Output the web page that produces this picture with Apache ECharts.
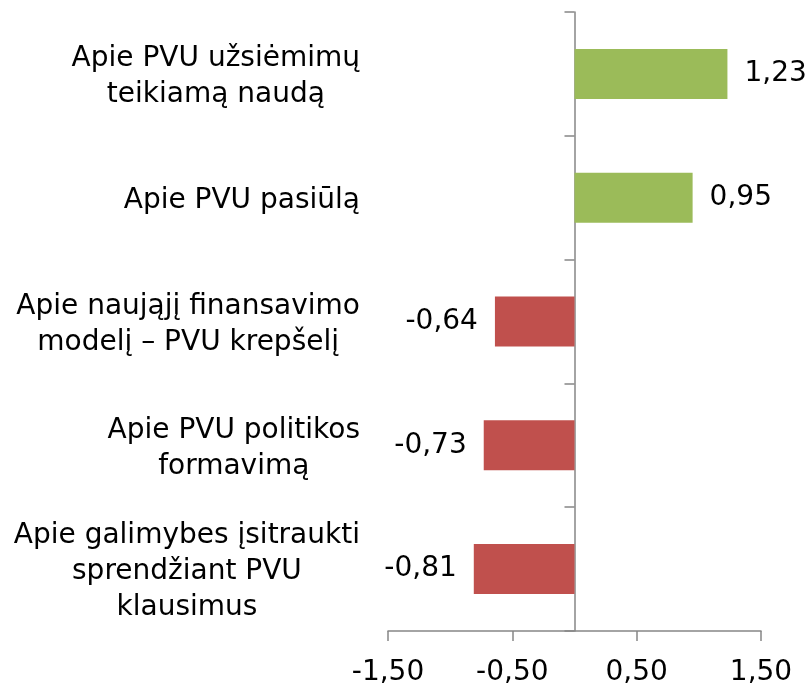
<!DOCTYPE html>
<html>
<head>
<meta charset="utf-8">
<script src="https://cdn.jsdelivr.net/npm/echarts@6/dist/echarts.min.js"></script>
<style>
  html, body { margin: 0; padding: 0; background: #fff; }
  #chart { width: 809px; height: 690px; }
</style>
</head>
<body>
<div id="chart"></div>
<script>
// categories, top to bottom (line breaks as in the picture)
const categories = [
  'Apie PVU užsiėmimų\nteikiamą naudą',
  'Apie PVU pasiūlą',
  'Apie naująjį finansavimo\nmodelį – PVU krepšelį',
  'Apie PVU politikos\nformavimą',
  'Apie galimybes įsitraukti\nsprendžiant PVU\nklausimus'
]
const values = [1.23, 0.95, -0.64, -0.73, -0.81]
const xTicks = [-1.5, -0.5, 0.5, 1.5]

const GREEN = '#9BBB59'
const RED = '#C0504D'
const FONT = 'DejaVu Sans'

const fmt = v => v.toFixed(2).replace('.', ',')

let myChart = echarts.init(document.getElementById('chart'))

let option = {
  animation: false,
  grid: {
    left: 388,
    right: 48,
    top: 12,
    bottom: 59,
    containLabel: false,
    outerBoundsMode: 'none'
  },
  xAxis: {
    type: 'value',
    min: -1.5,
    max: 1.5,
    splitLine: { show: false },
    axisLine: { show: true, lineStyle: { color: '#868686', width: 1.5 } },
    axisTick: { show: true, length: 10, customValues: xTicks, lineStyle: { color: '#868686', width: 1.5 } },
    axisLabel: {
      customValues: xTicks,
      formatter: v => fmt(v),
      color: '#000',
      fontSize: 28,
      fontFamily: FONT,
      margin: 28
    }
  },
  yAxis: {
    type: 'category',
    data: categories,
    inverse: true,
    axisLine: { show: true, onZero: true, lineStyle: { color: '#868686', width: 1.5 } },
    axisTick: { show: true, length: 10, lineStyle: { color: '#868686', width: 1.5 } },
    axisLabel: {
      margin: 28,
      align: 'right',
      color: '#000',
      fontSize: 28,
      fontFamily: FONT,
      padding: [6, 0, 0, 0],
      formatter: v => v.split('\n').map(s => '{c|' + s + '}').join('\n'),
      rich: {
        c: { align: 'center', fontSize: 28, fontFamily: FONT, color: '#000', lineHeight: 36 }
      }
    }
  },
  series: [
    {
      type: 'bar',
      barWidth: 50,
      data: values.map(v => ({
        value: v,
        itemStyle: { color: v >= 0 ? GREEN : RED },
        label: { position: v >= 0 ? 'right' : 'left' }
      })),
      label: {
        show: true,
        distance: 17,
        color: '#000',
        fontSize: 28,
        fontFamily: FONT,
        padding: [4, 0, 0, 0],
        formatter: p => fmt(p.value)
      }
    }
  ]
}

myChart.setOption(option)
</script>
</body>
</html>
